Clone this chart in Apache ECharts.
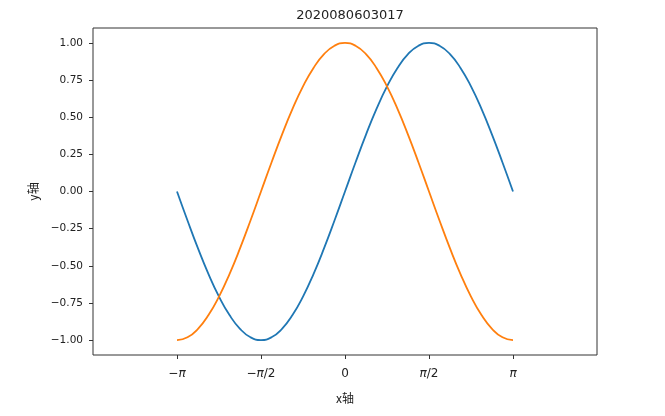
<!DOCTYPE html>
<html><head><meta charset="utf-8">
<script src="https://cdn.jsdelivr.net/npm/echarts@6/dist/echarts.min.js"></script>
<style>html,body{margin:0;padding:0;background:#fff}#c{width:665px;height:416px}</style>
</head><body><div id="c"></div>
<script>
const titleText = '2020080603017';
const xValues = [-3.1416,-2.9452,-2.7489,-2.5525,-2.3562,-2.1598,-1.9635,-1.7671,-1.5708,-1.3744,-1.1781,-0.9817,-0.7854,-0.5890,-0.3927,-0.1963,0,0.1963,0.3927,0.5890,0.7854,0.9817,1.1781,1.3744,1.5708,1.7671,1.9635,2.1598,2.3562,2.5525,2.7489,2.9452,3.1416];
const sinValues = [0,-0.1951,-0.3827,-0.5556,-0.7071,-0.8315,-0.9239,-0.9808,-1,-0.9808,-0.9239,-0.8315,-0.7071,-0.5556,-0.3827,-0.1951,0,0.1951,0.3827,0.5556,0.7071,0.8315,0.9239,0.9808,1,0.9808,0.9239,0.8315,0.7071,0.5556,0.3827,0.1951,0];
const cosValues = [-1,-0.9808,-0.9239,-0.8315,-0.7071,-0.5556,-0.3827,-0.1951,0,0.1951,0.3827,0.5556,0.7071,0.8315,0.9239,0.9808,1,0.9808,0.9239,0.8315,0.7071,0.5556,0.3827,0.1951,0,-0.1951,-0.3827,-0.5556,-0.7071,-0.8315,-0.9239,-0.9808,-1];
const xTickValues = [-3.14159265, -1.57079633, 0, 1.57079633, 3.14159265];
const xTickLabels = ['\u2212{i|π}', '\u2212{i|π}/2', '0', '{i|π}/2', '{i|π}'];
const yTickValues = [-1, -0.75, -0.5, -0.25, 0, 0.25, 0.5, 0.75, 1];
const yTickLabels = ['\u22121.00', '\u22120.75', '\u22120.50', '\u22120.25', '0.00', '0.25', '0.50', '0.75', '1.00'];

const font = '"DejaVu Sans", sans-serif';
const chart = echarts.init(document.getElementById('c'));
chart.setOption({
  animation: false,
  backgroundColor: '#fff',
  title: { text: titleText, left: 345, textAlign: 'center', top: 4,
    textStyle: { fontFamily: font, fontSize: 13, fontWeight: 'normal', color: '#222' } },
  grid: { left: 93, right: 68, top: 28, bottom: 61, show: true, borderColor: '#333', borderWidth: 1, backgroundColor: 'transparent' },
  xAxis: {
    type: 'value', min: -1.5 * Math.PI, max: 1.5 * Math.PI,
    name: 'x轴', nameLocation: 'middle', nameGap: 37,
    nameTextStyle: { fontFamily: '"Noto Sans CJK SC", sans-serif', fontSize: 12, color: '#222' },
    splitLine: { show: false }, axisLine: { show: false, onZero: false },
    axisTick: { show: true, length: 4, lineStyle: { color: '#333' }, customValues: xTickValues },
    axisLabel: { fontFamily: font, fontSize: 12, color: '#222', margin: 13,
      customValues: xTickValues,
      formatter: function (v) {
        let best = 0, bd = 1e9;
        xTickValues.forEach((t, i) => { const d = Math.abs(t - v); if (d < bd) { bd = d; best = i; } });
        return xTickLabels[best];
      },
      rich: { i: { fontStyle: 'italic', fontFamily: font, fontSize: 12, color: '#222' } } }
  },
  yAxis: {
    type: 'value', min: -1.1, max: 1.1,
    name: 'y轴', nameLocation: 'middle', nameGap: 53,
    nameTextStyle: { fontFamily: '"Noto Sans CJK SC", sans-serif', fontSize: 12, color: '#222' },
    splitLine: { show: false }, axisLine: { show: false, onZero: false },
    axisTick: { show: true, length: 4, lineStyle: { color: '#333' }, customValues: yTickValues },
    axisLabel: { fontFamily: font, fontSize: 10.5, color: '#222', margin: 10,
      customValues: yTickValues,
      formatter: function (v) {
        let best = 0, bd = 1e9;
        yTickValues.forEach((t, i) => { const d = Math.abs(t - v); if (d < bd) { bd = d; best = i; } });
        return yTickLabels[best];
      } }
  },
  series: [
    { type: 'line', data: xValues.map((x, i) => [x, sinValues[i]]), smooth: true, showSymbol: false,
      lineStyle: { color: '#1f77b4', width: 1.8 }, itemStyle: { color: '#1f77b4' } },
    { type: 'line', data: xValues.map((x, i) => [x, cosValues[i]]), smooth: true, showSymbol: false,
      lineStyle: { color: '#ff7f0e', width: 1.8 }, itemStyle: { color: '#ff7f0e' } }
  ]
});
</script></body></html>
